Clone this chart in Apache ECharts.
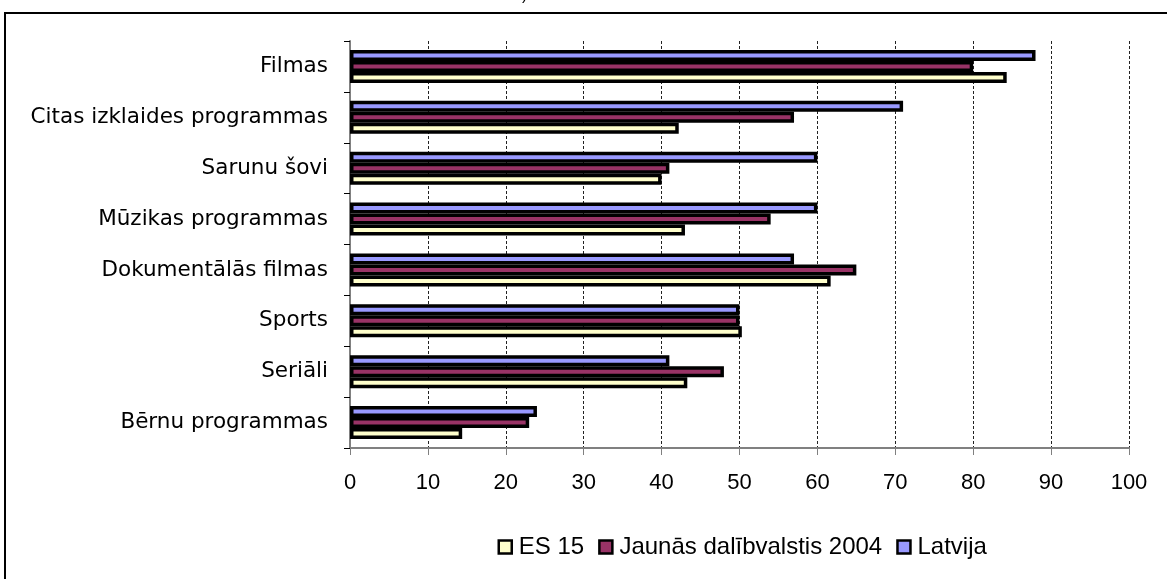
<!DOCTYPE html>
<html>
<head>
<meta charset="utf-8">
<script src="https://cdn.jsdelivr.net/npm/echarts@6/dist/echarts.min.js"></script>
<style>
  html, body { margin: 0; padding: 0; background: #fff; }
  #chart { width: 1167px; height: 579px; }
</style>
</head>
<body>
<div id="chart"></div>
<script>
// Programme genres, listed top to bottom
const categories = [
  'Filmas',
  'Citas izklaides programmas',
  'Sarunu šovi',
  'Mūzikas programmas',
  'Dokumentālās filmas',
  'Sports',
  'Seriāli',
  'Bērnu programmas'
];

// Shares per genre (%)
const latvija = [88, 71, 60, 60, 57, 50, 41, 24];
const jaunas2004 = [80, 57, 41, 54, 65, 50, 48, 23];
const es15 = [84.3, 42.2, 40, 43, 61.7, 50.3, 43.3, 14.4];

const xTicks = [0, 10, 20, 30, 40, 50, 60, 70, 80, 90, 100];

const FONT = '"Liberation Sans", Arial, sans-serif';
const WIDE_FONT = '"DejaVu Sans", "Liberation Sans", sans-serif';

const chart = echarts.init(document.getElementById('chart'), null, { renderer: 'canvas' });

function barSeries(name, data, color) {
  return {
    name: name,
    type: 'bar',
    data: data,
    barWidth: 11,
    barGap: '0%',
    itemStyle: { color: color, borderColor: '#000', borderWidth: 3.5 },
    emphasis: { disabled: true },
    animation: false
  };
}

chart.setOption({
  backgroundColor: '#fff',
  animation: false,
  grid: { left: 350, right: 38, top: 41, bottom: 131, containLabel: false },
  xAxis: {
    type: 'value',
    min: xTicks[0],
    max: xTicks[xTicks.length - 1],
    interval: 10,
    axisLine: { show: true, lineStyle: { color: '#808080', width: 2 } },
    axisTick: { show: true, length: 7, lineStyle: { color: '#808080', width: 1 } },
    axisLabel: { color: '#000', fontFamily: FONT, fontSize: 22, margin: 24 },
    splitLine: { show: true, lineStyle: { color: '#222', width: 1, type: [3, 2] } }
  },
  yAxis: {
    type: 'category',
    data: categories,
    inverse: true,
    axisLine: { show: true, lineStyle: { color: '#808080', width: 2 } },
    axisTick: { show: true, length: 6, lineStyle: { color: '#000', width: 1 } },
    axisLabel: { color: '#000', fontFamily: WIDE_FONT, fontSize: 21.5, margin: 22 },
    splitLine: { show: false }
  },
  legend: {
    data: ['ES 15', 'Jaunās dalībvalstis 2004', 'Latvija'],
    left: 497.5,
    top: 535,
    padding: 0,
    icon: 'rect',
    itemWidth: 13,
    itemHeight: 13,
    itemGap: 14,
    itemStyle: { borderColor: '#000', borderWidth: 2.5 },
    textStyle: { color: '#000', fontFamily: FONT, fontSize: 24, padding: [0, 0, 0, 2] },
    selectedMode: false
  },
  series: [
    barSeries('Latvija', latvija, '#9999FF'),
    barSeries('Jaunās dalībvalstis 2004', jaunas2004, '#993366'),
    barSeries('ES 15', es15, '#FFFFCC')
  ],
  graphic: [
    {
      type: 'rect',
      silent: true,
      shape: { x: 5, y: 13, width: 1200, height: 600 },
      style: { fill: 'none', stroke: '#000', lineWidth: 2 },
      z: 100
    },
    {
      type: 'text',
      silent: true,
      x: 522,
      y: 4,
      style: { text: ')', font: '16px ' + FONT, fill: '#000', textVerticalAlign: 'bottom' }
    }
  ]
});
</script>
</body>
</html>
